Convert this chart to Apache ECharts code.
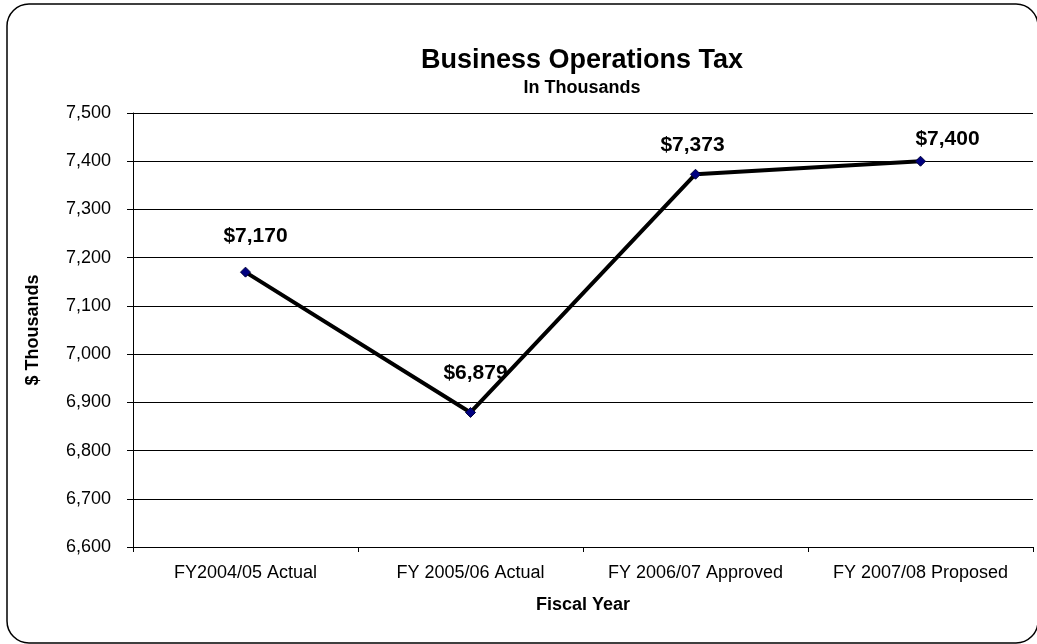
<!DOCTYPE html>
<html>
<head>
<meta charset="utf-8">
<script src="https://cdn.jsdelivr.net/npm/echarts@6/dist/echarts.min.js"></script>
<style>
html,body{margin:0;padding:0;background:#fff;}
#c{width:1037px;height:644px;}
</style>
</head>
<body>
<div id="c"></div>
<script>
const categories = ['FY2004/05 Actual', 'FY 2005/06 Actual', 'FY 2006/07 Approved', 'FY 2007/08 Proposed'];
const values = [7170, 6879, 7373, 7400];
const yTicks = { min: 6600, max: 7500, interval: 100 };
// label placement (style only): offsets from each point
const labelOffsets = [[10, -36], [5, -39], [-3, -29], [27, -22]];

const FONT = '"Liberation Sans", Arial, sans-serif';
const chart = echarts.init(document.getElementById('c'));
chart.setOption({
  backgroundColor: '#fff',
  animation: false,
  graphic: [{
    type: 'rect',
    shape: { x: 7, y: 4, width: 1031, height: 639, r: 22 },
    style: { fill: 'none', stroke: '#000', lineWidth: 1.5 },
    z: -1
  }],
  title: [{
    text: 'Business Operations Tax',
    left: 577, top: 42, textAlign: 'center',
    textStyle: { fontFamily: FONT, fontWeight: 'bold', fontSize: 27, color: '#000' }
  }, {
    text: 'In Thousands',
    left: 577, top: 74, textAlign: 'center',
    textStyle: { fontFamily: FONT, fontWeight: 'bold', fontSize: 18, color: '#000' }
  }],
  grid: { left: 133, right: 4, top: 113, bottom: 97 },
  xAxis: {
    type: 'category',
    data: categories,
    boundaryGap: true,
    name: 'Fiscal Year',
    nameLocation: 'middle',
    nameGap: 49,
    nameTextStyle: { fontFamily: FONT, fontWeight: 'bold', fontSize: 18, color: '#000' },
    axisLine: { lineStyle: { color: '#000', width: 1 } },
    axisTick: { show: true, interval: 0, length: 5, lineStyle: { color: '#000' } },
    axisLabel: { interval: 0, fontFamily: FONT, fontSize: 18, color: '#000', margin: 17 },
    splitLine: { show: false }
  },
  yAxis: {
    type: 'value',
    min: yTicks.min, max: yTicks.max, interval: yTicks.interval,
    name: '$ Thousands',
    nameLocation: 'middle',
    nameGap: 91,
    nameTextStyle: { fontFamily: FONT, fontWeight: 'bold', fontSize: 18, color: '#000' },
    axisLine: { show: true, lineStyle: { color: '#000', width: 1 } },
    axisTick: { show: true, length: 6, lineStyle: { color: '#000' } },
    axisLabel: {
      fontFamily: FONT, fontSize: 18, color: '#000', margin: 22,
      formatter: v => v.toLocaleString('en-US')
    },
    splitLine: { show: true, lineStyle: { color: '#000', width: 1 } }
  },
  series: [{
    type: 'line',
    data: values.map((v, i) => ({
      value: v,
      label: { offset: labelOffsets[i] }
    })),
    symbol: 'diamond',
    symbolSize: 10,
    lineStyle: { color: '#000', width: 4 },
    itemStyle: { color: '#000080', borderColor: '#00003a', borderWidth: 1 },
    label: {
      show: true,
      position: 'inside',
      fontFamily: FONT, fontWeight: 'bold', fontSize: 21, color: '#000',
      formatter: p => '$' + p.value.toLocaleString('en-US')
    },
    z: 5
  }]
});
</script>
</body>
</html>
